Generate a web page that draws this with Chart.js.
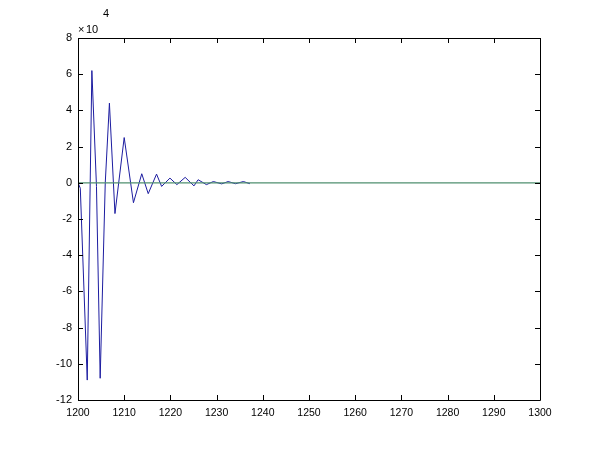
<!DOCTYPE html>
<html>
<head>
<meta charset="utf-8">
<script src="https://cdn.jsdelivr.net/npm/chart.js@4/dist/chart.umd.min.js"></script>
<style>
  html, body { margin: 0; padding: 0; background: #fff; }
  #wrap { width: 598px; height: 449px; }
</style>
</head>
<body>
<div id="wrap"><canvas id="plot" width="598" height="449"></canvas></div>
<script>
// signal samples (x, value)
const signalX = [1200, 1200.5, 1202, 1203, 1204, 1204.8, 1205.9, 1206.8, 1208, 1210, 1212,
  1213.8, 1215.2, 1217, 1218.1, 1219.9, 1221.4, 1223.2, 1225.1, 1226, 1227.8, 1229.3,
  1231.1, 1232.5, 1234.1, 1235.8, 1237.2];
const signalY = [0, -3000, -109000, 62000, -2000, -108000, 0, 44000, -17000, 25000, -11000,
  5000, -6000, 4800, -2000, 2600, -1000, 3000, -1700, 1700, -1000, 700,
  -600, 700, -500, 700, -500];

// reference (zero) line
const baseX = [1200, 1300];
const baseY = [0, 0];

const xTicks = [1200, 1210, 1220, 1230, 1240, 1250, 1260, 1270, 1280, 1290, 1300];
const yTicks = [-12, -10, -8, -6, -4, -2, 0, 2, 4, 6, 8]; // x 10^4

const pts = (xs, ys) => xs.map((x, i) => ({ x: x, y: ys[i] }));

// box + inward ticks on all four sides, plus the exponent label
const boxPlugin = {
  id: 'box',
  afterDraw(chart) {
    const ctx = chart.ctx;
    const a = chart.chartArea;
    const sx = chart.scales.x, sy = chart.scales.y;
    ctx.save();
    ctx.strokeStyle = '#000';
    ctx.lineWidth = 1;
    ctx.beginPath();
    ctx.rect(Math.round(a.left) + 0.5, Math.round(a.top) + 0.5,
      Math.round(a.right - a.left), Math.round(a.bottom - a.top));
    xTicks.forEach(v => {
      const px = Math.round(sx.getPixelForValue(v)) + 0.5;
      ctx.moveTo(px, a.bottom); ctx.lineTo(px, a.bottom - 5);
      ctx.moveTo(px, a.top); ctx.lineTo(px, a.top + 5);
    });
    yTicks.forEach(v => {
      const py = Math.round(sy.getPixelForValue(v * 1e4)) + 0.5;
      ctx.moveTo(a.left, py); ctx.lineTo(a.left + 5, py);
      ctx.moveTo(a.right, py); ctx.lineTo(a.right - 5, py);
    });
    ctx.stroke();
    ctx.fillStyle = '#000';
    ctx.font = '11px "Liberation Sans", Arial, sans-serif';
    ctx.textBaseline = 'alphabetic';
    ctx.fillText('\u00d7', a.left, a.top - 5);
    ctx.fillText('10', a.left + 8, a.top - 5);
    ctx.fillText('4', a.left + 25, a.top - 21);
    ctx.restore();
  }
};

new Chart(document.getElementById('plot').getContext('2d'), {
  type: 'scatter',
  data: {
    datasets: [
      {
        data: pts(baseX, baseY),
        showLine: true,
        borderColor: '#4f8f6f',
        borderWidth: 1.2,
        pointRadius: 0,
        order: 0
      },
      {
        data: pts(signalX, signalY),
        showLine: true,
        borderColor: '#1c1ca0',
        borderWidth: 1,
        pointRadius: 0,
        order: 1
      }
    ]
  },
  plugins: [boxPlugin],
  options: {
    responsive: false,
    animation: false,
    layout: { padding: { top: 38, right: 58, left: 0, bottom: 0 } },
    plugins: { legend: { display: false }, tooltip: { enabled: false } },
    scales: {
      x: {
        type: 'linear',
        min: 1200,
        max: 1300,
        grid: { display: false, drawTicks: false },
        border: { display: false },
        afterFit: s => { s.height = 49; },
        afterBuildTicks: s => { s.ticks = xTicks.map(v => ({ value: v })); },
        ticks: {
          padding: 7,
          color: '#000',
          maxRotation: 0,
          autoSkip: false,
          font: { family: "'Liberation Sans', Arial, sans-serif", size: 10.5 },
          callback: v => String(v)
        }
      },
      y: {
        type: 'linear',
        min: -120000,
        max: 80000,
        grid: { display: false, drawTicks: false },
        border: { display: false },
        afterFit: s => { s.width = 78; },
        afterBuildTicks: s => { s.ticks = yTicks.map(v => ({ value: v * 1e4 })); },
        ticks: {
          padding: 6,
          color: '#000',
          autoSkip: false,
          font: { family: "'Liberation Sans', Arial, sans-serif", size: 11 },
          callback: v => String(Math.round(v / 1e4))
        }
      }
    }
  }
});
</script>
</body>
</html>
